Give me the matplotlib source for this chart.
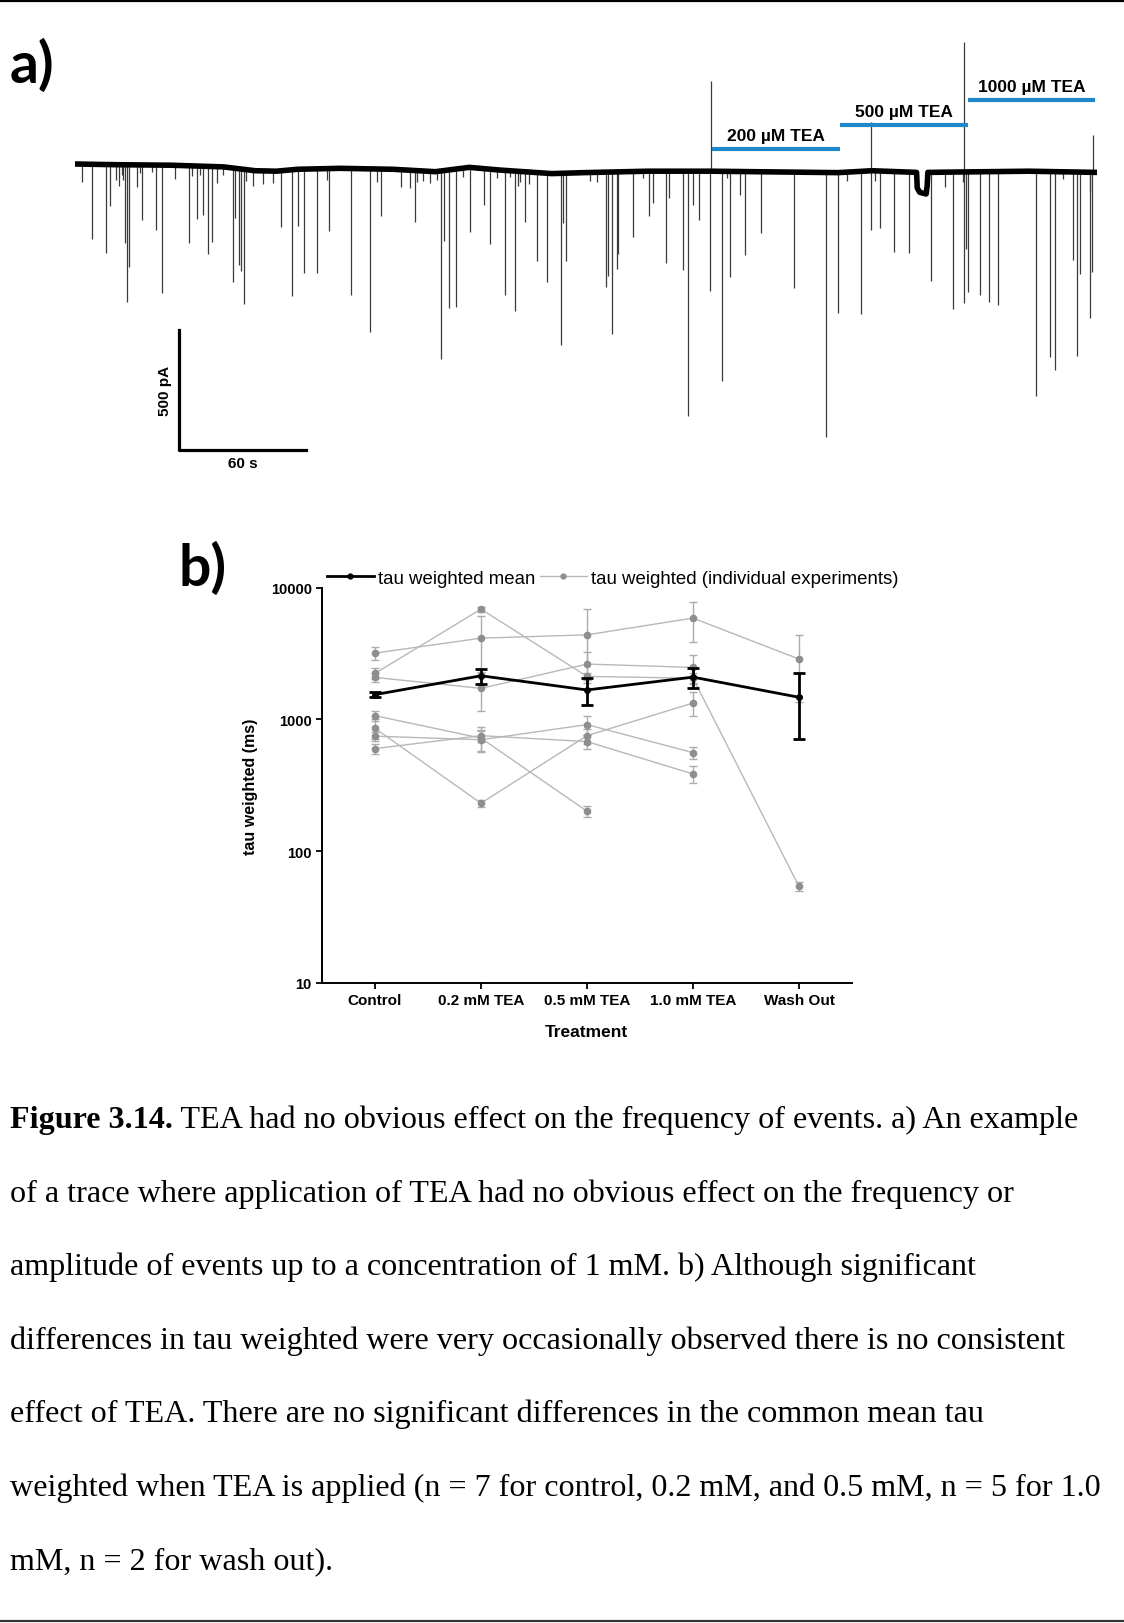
import matplotlib
matplotlib.use("Agg")
import matplotlib.pyplot as plt
from matplotlib.lines import Line2D
import numpy as np

W, H = 1124, 1624

# --- a) trace: baseline drift (s, pA) ---
base_t = [0, 20, 45, 70, 85, 95, 105, 125, 150, 170, 186, 200, 225, 240, 270, 300,
          330, 360, 376, 397, 397.3, 398.5, 401.5, 402.0, 402.3, 420, 450, 482]
base_i = [0, -3, -5, -12, -28, -30, -22, -18, -22, -32, -14, -25, -40, -36, -30, -30,
          -33, -36, -28, -35, -100, -118, -125, -90, -35, -33, -30, -35]

# inward events (time in s, amplitude in pA)
event_t = [3.1, 8.0, 14.5, 16.5, 19.3, 20.8, 22.2, 22.8, 23.6, 24.5, 25.6, 29.4, 30.6, 31.6,
           36.2, 38.1, 41.0, 47.2, 53.6, 55.0, 57.4, 58.9, 60.2, 62.9, 64.5, 66.8, 69.9, 74.4,
           75.5, 77.4, 78.3, 79.6, 80.9, 84.1, 88.8, 93.6, 97.2, 102.5, 105.0, 108.2, 114.0,
           118.7, 119.7, 130.0, 139.2, 142.3, 144.3, 153.6, 158.0, 160.2,
           161.2, 164.3, 167.5, 170.6, 172.6, 174.2, 176.4, 179.9, 183.2, 186.2, 193.1, 195.8,
           198.9, 202.7, 205.2, 207.5, 208.8, 209.9, 212.1, 214.0, 217.8, 222.8, 229.1, 230.3,
           231.6, 242.9, 246.1, 250.5, 251.6, 253.2, 255.5, 256.3, 263.4, 268.1, 270.6, 272.5,
           278.8, 280.3, 286.6, 289.3, 291.6, 294.5, 299.5, 305.3, 307.4, 309.0, 313.7, 316.0,
           323.4,
           339.3, 354.2, 359.8, 364.0, 370.6, 375.6, 377.4, 379.8, 386.4, 393.3, 403.6, 410.3,
           414.2, 418.9, 419.5, 420.3, 421.4, 426.9, 431.3, 435.4, 453.2, 459.8, 462.1, 466.0,
           470.6, 472.8, 474.1, 478.7, 478.8, 479.9]
event_amp = [76, 313, 368, 174, 63, 90, 42, 63, 327, 570, 424, 90, 35, 229,
             28, 271, 532, 56, 320, 42, 222, 35, 202, 366, 313, 70, 35, 477,
             209, 403, 424, 563, 49, 63, 56, 49, 236, 524, 236, 431, 434,
             49, 260, 528, 681, 56, 195, 70, 76, 215,
             49, 42, 49, 35, 785, 292, 574, 577, 35, 268, 153, 313,
             35, 521, 28, 584, 63, 42, 209, 49, 368, 452, 716, 209,
             368, 35, 42, 480, 431, 674, 403, 341, 271, 28, 188, 132,
             382, 111, 410, 1019, 139, 202, 500, 872, 28, 438, 97, 348,
             257,
             484, 1102, 584, 35, 594, 247, 42, 236, 334, 338, 452, 63,
             570, 42, 546, 320, 500, 512, 545, 556, 938, 771, 827, 28,
             368, 765, 424, 76, 609, 417]

# outward artefacts at solution changes
up_t = [300.0, 375.6, 419.3, 480.2]
up_amp = [376, 205, 543, 155]

# TEA application periods (s)
tea_labels = ["200 µM TEA", "500 µM TEA", "1000 µM TEA"]
tea_start = [300.5, 360.8, 421.2]
tea_end = [360.8, 421.2, 481.1]
tea_level = [62.5, 162.5, 264.6]

# --- b) tau weighted ---
treatments = ["Control", "0.2 mM TEA", "0.5 mM TEA", "1.0 mM TEA", "Wash Out"]
tau_mean = [1540, 2140, 1670, 2090, 1470]
tau_mean_sem = [60, 280, 380, 360, 760]

nan = np.nan
exp_tau = [
    [3180, 4130, 4375, 5860, 2864],
    [2230, 6855, 2118, 2050, 54],
    [2080, 1718, 2625, 2477, nan],
    [1066, 720, 201, nan, nan],
    [855, 231, 752, 1330, nan],
    [745, 700, 912, 559, nan],
    [600, 752, 678, 385, nan],
]
exp_sem = [
    [380, 1900, 2480, 1970, 1510],
    [200, 300, 120, 200, 4],
    [150, 555, 630, 600, nan],
    [100, 150, 20, nan, nan],
    [150, 15, 100, 270, nan],
    [60, 120, 150, 60, nan],
    [50, 80, 80, 55, nan],
]

caption = [
    "of a trace where application of TEA had no obvious effect on the frequency or",
    "amplitude of events up to a concentration of 1 mM. b) Although significant",
    "differences in tau weighted were very occasionally observed there is no consistent",
    "effect of TEA. There are no significant differences in the common mean tau",
    "weighted when TEA is applied (n = 7 for control, 0.2 mM, and 0.5 mM, n = 5 for 1.0",
    "mM, n = 2 for wash out).",
]


def px_axes(fig, x0, y0, x1, y1):
    return fig.add_axes([x0 / W, 1 - y1 / H, (x1 - x0) / W, (y1 - y0) / H])


plt.rcParams["font.family"] = ["Liberation Sans", "DejaVu Sans"]
fig = plt.figure(figsize=(W / 100, H / 100), dpi=100)

# page rules
fig.add_artist(Line2D([0, 1], [1 - 1.5 / H, 1 - 1.5 / H], color="black", lw=1.6))
fig.add_artist(Line2D([0, 1], [1 - 1622 / H, 1 - 1622 / H], color="#333333", lw=1.6))

# ---------------- panel a ----------------
ax = px_axes(fig, 75, 30, 1097, 480)
ax.set_xlim(0, 482.1)
ax.set_ylim(-1312.5, 562.5)
ax.axis("off")

ev_t = np.array(event_t)
ev_base = np.interp(ev_t, base_t, base_i)
ax.vlines(ev_t, ev_base - np.array(event_amp), ev_base, color="#3a3a3a", lw=0.9)
u_t = np.array(up_t)
u_base = np.interp(u_t, base_t, base_i)
ax.vlines(u_t, u_base, u_base + np.array(up_amp), color="#3a3a3a", lw=0.9)
ax.plot(base_t, base_i, color="black", lw=4.0, solid_joinstyle="round")

for lab, s, e, lev in zip(tea_labels, tea_start, tea_end, tea_level):
    ax.plot([s, e], [lev, lev], color="#1f88c8", lw=3.0, solid_capstyle="butt")
    ax.text((s + e) / 2, lev + 25, lab, ha="center", va="bottom",
            fontsize=12.5, fontweight="bold")

# scale bar
sb_t, sb_i = 49.1, -1191.7
ax.plot([sb_t, sb_t, sb_t + 60], [sb_i + 500, sb_i, sb_i], color="black", lw=2.3)
ax.text(sb_t - 6.5, sb_i + 250, "500 pA", rotation=90, ha="center", va="center",
        fontsize=11, fontweight="bold")
ax.text(sb_t + 30, sb_i - 55, "60 s", ha="center", va="center",
        fontsize=11, fontweight="bold")

fig.text(10 / W, 1 - 66 / H, "a)", fontsize=41, fontweight="bold",
         family=["Lato", "DejaVu Sans"], va="center", ha="left")
fig.text(179 / W, 1 - 569 / H, "b)", fontsize=41, fontweight="bold",
         family=["Lato", "DejaVu Sans"], va="center", ha="left")

# ---------------- panel b ----------------
bx = px_axes(fig, 322, 588.5, 852, 984)
x = np.arange(len(treatments))

for vals, sems in zip(exp_tau, exp_sem):
    v = np.array(vals, dtype=float)
    s = np.array(sems, dtype=float)
    m = ~np.isnan(v)
    bx.errorbar(x[m], v[m], yerr=s[m], color="#b8b8b8", lw=1.0, marker="o", ms=4.5,
                mfc="#8e8e8e", mec="#8e8e8e", ecolor="#acacac", elinewidth=1.0,
                capsize=3, capthick=1.0, zorder=2)

bx.errorbar(x, tau_mean, yerr=tau_mean_sem, color="black", lw=2.0, marker="o", ms=4,
            ecolor="black", elinewidth=2.0, capsize=4, capthick=2.0, zorder=5)

bx.set_yscale("log")
bx.set_ylim(10, 10000)
bx.set_xlim(-0.5, 4.5)
bx.set_yticks([10, 100, 1000, 10000])
bx.set_yticklabels(["10", "100", "1000", "10000"])
bx.yaxis.set_minor_locator(matplotlib.ticker.NullLocator())
bx.set_xticks(x)
bx.set_xticklabels(treatments)
for lbl in bx.get_xticklabels():
    lbl.set_fontweight("bold")
    lbl.set_fontsize(11)
for lbl in bx.get_yticklabels():
    lbl.set_fontweight("bold")
    lbl.set_fontsize(10.5)
bx.tick_params(direction="out", length=4.3, width=1.3, pad=3)
for side in ["top", "right"]:
    bx.spines[side].set_visible(False)
for side in ["left", "bottom"]:
    bx.spines[side].set_linewidth(1.4)

bx.set_ylabel("tau weighted (ms)", fontsize=11.5, fontweight="bold")
bx.yaxis.set_label_coords(-0.121, 0.498)
bx.set_xlabel("Treatment", fontsize=12.5, fontweight="bold")
bx.xaxis.set_label_coords(0.498, -0.104)

handles = [
    Line2D([], [], color="black", lw=2.0, marker="o", ms=3.5),
    Line2D([], [], color="#b8b8b8", lw=1.0, marker="o", ms=3.5,
           mfc="#8e8e8e", mec="#8e8e8e"),
]
bx.legend(handles, ["tau weighted mean", "tau weighted (individual experiments)"],
          ncol=2, loc="center left", bbox_to_anchor=(0.0094, 1.024), frameon=False,
          fontsize=13.4, handlelength=2.5, handletextpad=0.25, columnspacing=0.25,
          borderpad=0, borderaxespad=0)

# ---------------- caption ----------------
serif = ["Liberation Serif", "DejaVu Serif"]
cap_fs = 23.1
renderer = fig.canvas.get_renderer()
bold = fig.text(10.4 / W, 1 - 1128.3 / H, "Figure 3.14.", fontsize=cap_fs,
                fontweight="bold", family=serif, va="baseline")
bb = bold.get_window_extent(renderer)
fig.text(bb.x1 / W, 1 - 1128.3 / H,
         " TEA had no obvious effect on the frequency of events. a) An example",
         fontsize=cap_fs, family=serif, va="baseline")
for i, line in enumerate(caption):
    fig.text(10.4 / W, 1 - (1128.3 + 73.5 * (i + 1)) / H, line, fontsize=cap_fs,
             family=serif, va="baseline")

fig.savefig("out.png", dpi=100)
